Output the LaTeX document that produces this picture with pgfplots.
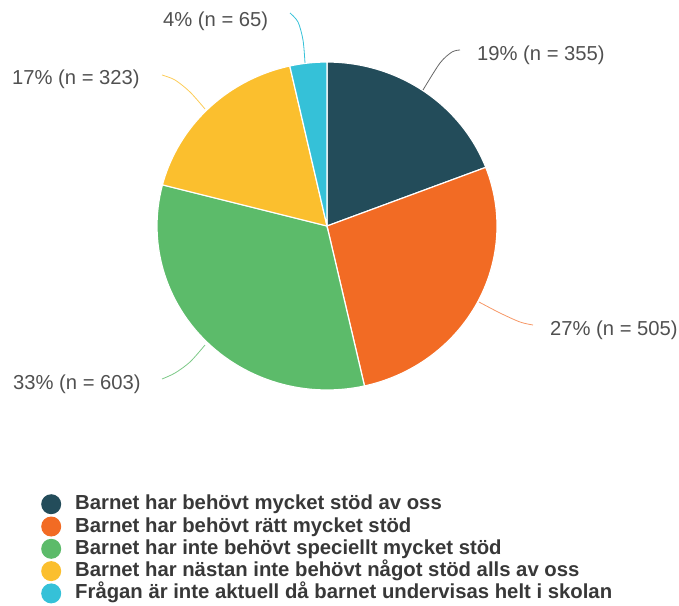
\documentclass[border=0pt]{standalone}
\usepackage{pgfplots}
\pgfplotsset{compat=1.18}
\usepackage{fontspec}
\setmainfont{Liberation Sans}
\definecolor{cA}{HTML}{234C5A}
\definecolor{cB}{HTML}{F26B24}
\definecolor{cC}{HTML}{5CBB6A}
\definecolor{cD}{HTML}{FBBF2E}
\definecolor{cE}{HTML}{35C1D8}
\definecolor{lbl}{HTML}{505050}
\definecolor{leg}{HTML}{383838}
\begin{document}
\begin{tikzpicture}
% counts per answer
\def\nA{355}\def\nB{505}\def\nC{603}\def\nD{323}\def\nE{65}
\pgfmathsetmacro\tot{\nA+\nB+\nC+\nD+\nE}
\pgfmathsetmacro\aA{90}
\pgfmathsetmacro\aB{\aA-\nA/\tot*360}
\pgfmathsetmacro\aC{\aB-\nB/\tot*360}
\pgfmathsetmacro\aD{\aC-\nC/\tot*360}
\pgfmathsetmacro\aE{\aD-\nD/\tot*360}
\pgfmathsetmacro\aF{\aE-\nE/\tot*360}
\begin{axis}[
  scale only axis, width=679pt, height=605pt,
  xmin=0, xmax=679, ymin=0, ymax=605, y dir=reverse,
  hide axis, clip=false,
  legend image code/.code={\fill[#1,draw=none] (10pt,0pt) circle (10pt);},
  legend cell align=left,
  legend style={draw=none, fill=none, at={(axis cs:41,494)}, anchor=north west,
    inner sep=0pt, row sep=2.3pt,
    nodes={inner sep=0pt, text height=15pt, text depth=4pt, font=\fontsize{20.3}{24}\selectfont\bfseries, text=leg},
    /tikz/every odd column/.append style={column sep=14pt}},
]
\addplot[fill=cA, draw=white, line width=1.2pt, domain=\aB:\aA, samples=60, variable=\t]
  ({327+170*cos(t)},{226-164*sin(t)}) -- (axis cs:327,226) -- cycle;
\addplot[fill=cB, draw=white, line width=1.2pt, domain=\aC:\aB, samples=60, variable=\t]
  ({327+170*cos(t)},{226-164*sin(t)}) -- (axis cs:327,226) -- cycle;
\addplot[fill=cC, draw=white, line width=1.2pt, domain=\aD:\aC, samples=60, variable=\t]
  ({327+170*cos(t)},{226-164*sin(t)}) -- (axis cs:327,226) -- cycle;
\addplot[fill=cD, draw=white, line width=1.2pt, domain=\aE:\aD, samples=60, variable=\t]
  ({327+170*cos(t)},{226-164*sin(t)}) -- (axis cs:327,226) -- cycle;
\addplot[fill=cE, draw=white, line width=1.2pt, domain=\aF:\aE, samples=30, variable=\t]
  ({327+170*cos(t)},{226-164*sin(t)}) -- (axis cs:327,226) -- cycle;
\legend{Barnet har behövt mycket stöd av oss,
        Barnet har behövt rätt mycket stöd,
        Barnet har inte behövt speciellt mycket stöd,
        Barnet har nästan inte behövt något stöd alls av oss,
        Frågan är inte aktuell då barnet undervisas helt i skolan}
% leader lines
\addplot[forget plot, smooth, draw=gray!80!black, line width=0.8pt] coordinates {(423,90) (440,63) (452,52) (460,50)};
\addplot[forget plot, smooth, draw=cB!70, line width=0.8pt] coordinates {(479,302) (500,313) (520,322) (533,325)};
\addplot[forget plot, smooth, draw=cC!80, line width=0.8pt] coordinates {(205,345) (190,362) (175,373) (162,379)};
\addplot[forget plot, smooth, draw=cD!80, line width=0.8pt] coordinates {(205,109) (190,92) (175,80) (162,75)};
\addplot[forget plot, smooth, draw=cE, line width=0.8pt] coordinates {(305,63) (303,40) (298,22) (290,13)};
% labels
\begin{scope}[every node/.style={font=\fontsize{20.2}{24}\selectfont, text=lbl, inner sep=0pt}]
\node[anchor=west] at (axis cs:477,55) {19\% (n = 355)};
\node[anchor=west] at (axis cs:550,330) {27\% (n = 505)};
\node[anchor=west] at (axis cs:13,384) {33\% (n = 603)};
\node[anchor=west] at (axis cs:12,79) {17\% (n = 323)};
\node[anchor=west] at (axis cs:163,21) {4\% (n = 65)};
\end{scope}
\coordinate (bl) at (axis cs:0,605);
\coordinate (tr) at (axis cs:679,0);
\end{axis}
\pgfresetboundingbox
\path[use as bounding box] (bl) rectangle (tr);
\end{tikzpicture}
\end{document}
